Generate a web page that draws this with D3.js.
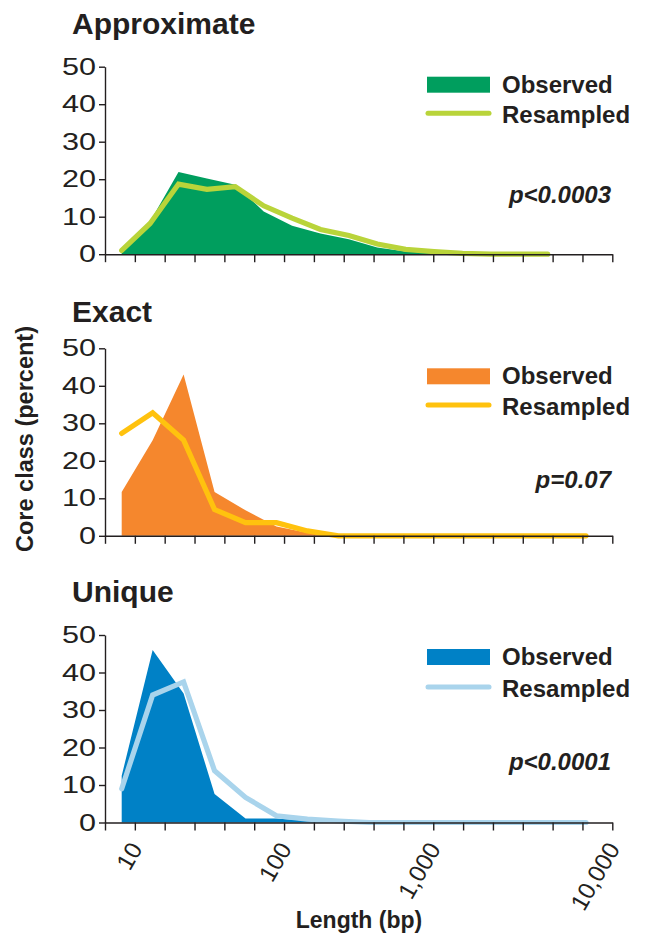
<!DOCTYPE html>
<html>
<head>
<meta charset="utf-8">
<script src="https://cdn.jsdelivr.net/npm/d3@7"></script>
<style>
body { margin: 0; background: #fff; }
svg text { font-family: "Liberation Sans", Arial, Helvetica, sans-serif; fill: #231f20; }
</style>
</head>
<body>
<svg id="chart" width="645" height="937"></svg>
<script>
// length bins (index along the log length axis)
var bins = d3.range(16);

var approxObserved  = [0.5, 8.7, 21.9, 20.2, 18.5, 11.4, 7.6, 5.5, 4.0, 1.8, 0.7, 0.3, 0, 0, 0, 0];
var approxResampled = [1.0, 8.2, 18.7, 17.3, 18.0, 12.9, 9.6, 6.6, 5.0, 2.7, 1.3, 0.7, 0.2, 0, 0, 0];

var exactObserved  = [11.7, 25.5, 43.0, 11.7, 6.8, 2.5, 0.8, 0.2, 0, 0, 0, 0, 0, 0, 0, 0];
var exactResampled = [27.3, 32.8, 25.5, 7.0, 3.5, 3.5, 1.3, 0, 0, 0, 0, 0, 0, 0, 0, 0];

var uniqueObserved  = [12.5, 46.0, 34.4, 7.6, 1.1, 1.1, 0.5, 0, 0, 0, 0, 0, 0, 0, 0, 0];
var uniqueResampled = [9.0, 34.0, 37.5, 13.8, 6.7, 1.8, 0.9, 0.4, 0, 0, 0, 0, 0, 0, 0, 0];

var panelTitles = ["Approximate", "Exact", "Unique"];
var pValues = ["p<0.0003", "p=0.07", "p<0.0001"];
var yTicks = [0, 10, 20, 30, 40, 50];
var xTickCount = 18;
var xLabelIndex = [1, 6, 11, 17];
var xLabelText = ["10", "100", "1,000", "10,000"];

var observedColors  = ["#009e5e", "#f5872d", "#0081c6"];
var resampledColors = ["#b9d43a", "#ffc20e", "#a9d4ec"];

var svg = d3.select("#chart");

// layout
var panelTop = [66.7, 348.3, 635];
var panelH = 187.5;
var titleY = [34, 322, 602];
var dataEnd = [547.7, 586, 586];
var legendTop = [10, 20, 14];
var legendLineY = [46.6, 56.7, 52];
var pY = [136.6, 139.2, 135];

var xAxisScale = d3.scaleLinear().domain([0, xTickCount - 1]).range([105, 612.3]);

var panels = [
	{obs: approxObserved, res: approxResampled},
	{obs: exactObserved, res: exactResampled},
	{obs: uniqueObserved, res: uniqueResampled}
];

panels.forEach(function(p, i) {
	var top = panelTop[i];
	var y = d3.scaleLinear().domain([0, 50]).range([top + panelH, top]);
	var x = d3.scaleLinear().domain([0, bins.length - 1]).range([121.7, dataEnd[i]]);
	var g = svg.append("g");

	g.append("text").attr("x", 72).attr("y", titleY[i])
		.style("font-size", "30px").style("font-weight", "bold")
		.text(panelTitles[i]);

	var area = d3.area()
		.x(function(d, k) { return x(bins[k]); })
		.y0(y(0))
		.y1(function(d) { return y(d); });
	g.append("path").datum(p.obs).attr("d", area).attr("fill", observedColors[i]);

	var line = d3.line()
		.x(function(d, k) { return x(bins[k]); })
		.y(function(d) { return y(d); });
	g.append("path").datum(p.res).attr("d", line)
		.attr("fill", "none").attr("stroke", resampledColors[i])
		.attr("stroke-width", 5.2).attr("stroke-linecap", "round");

	// y axis
	var ya = g.append("g").attr("transform", "translate(105,0)")
		.call(d3.axisLeft(y).tickValues(yTicks).tickSize(6).tickSizeOuter(0).tickPadding(3));
	ya.selectAll("text").style("font-size", "24px")
		.attr("textLength", function(d) { return String(d).length * 17; })
		.attr("lengthAdjust", "spacingAndGlyphs");

	// x axis
	var xa = g.append("g").attr("transform", "translate(0," + y(0) + ")")
		.call(d3.axisBottom(xAxisScale).tickValues(d3.range(xTickCount)).tickSize(8).tickSizeOuter(0).tickFormat(""));
	[ya, xa].forEach(function(a) {
		a.selectAll("path, line").attr("stroke", "#231f20").attr("stroke-width", 1.4);
	});

	if (i == 2) {
		xLabelIndex.forEach(function(t, k) {
			g.append("text")
				.attr("transform", "translate(" + (xAxisScale(t) + 1) + "," + (y(0) + 22) + ") rotate(-60)")
				.attr("text-anchor", "end").attr("dy", "0.35em")
				.style("font-size", "24px")
				.text(xLabelText[k]);
		});
	}

	// legend
	g.append("rect").attr("x", 427).attr("y", top + legendTop[i]).attr("width", 63).attr("height", 16)
		.attr("fill", observedColors[i]);
	g.append("text").attr("x", 502).attr("y", top + legendTop[i] + 16)
		.style("font-size", "24px").style("font-weight", "bold").text("Observed");
	g.append("line").attr("x1", 428).attr("x2", 489)
		.attr("y1", top + legendLineY[i]).attr("y2", top + legendLineY[i])
		.attr("stroke", resampledColors[i]).attr("stroke-width", 5).attr("stroke-linecap", "round");
	g.append("text").attr("x", 502).attr("y", top + legendLineY[i] + 9.5)
		.style("font-size", "24px").style("font-weight", "bold").text("Resampled");

	g.append("text").attr("x", 611).attr("y", top + pY[i])
		.attr("text-anchor", "end")
		.style("font-size", "24px").style("font-weight", "bold").style("font-style", "italic")
		.text(pValues[i]);
});

svg.append("text")
	.attr("transform", "translate(33,439) rotate(-90)")
	.attr("text-anchor", "middle")
	.style("font-size", "23.5px").style("font-weight", "bold")
	.text("Core class (percent)");

svg.append("text").attr("x", 359).attr("y", 928)
	.attr("text-anchor", "middle")
	.style("font-size", "23px").style("font-weight", "bold")
	.text("Length (bp)");
</script>
</body>
</html>
